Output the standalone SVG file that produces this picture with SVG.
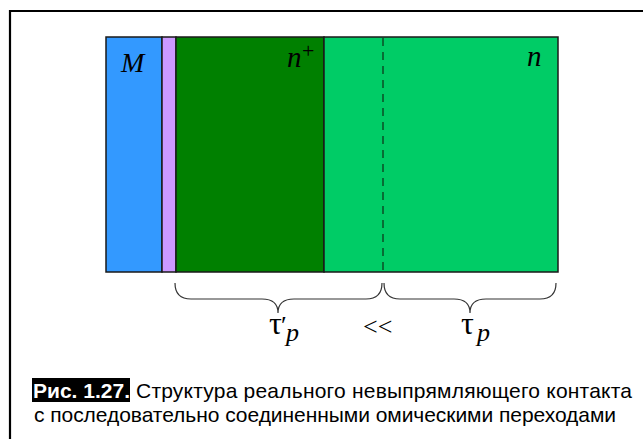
<svg xmlns="http://www.w3.org/2000/svg" width="643" height="439" viewBox="0 0 643 439">
  <style>
    .layer { stroke: #1a1a1a; stroke-width: 1.5; }
    .lbl { font-family: "Liberation Serif", "Times New Roman", serif; font-style: italic; fill: #000; }
    .tau { font-family: "Liberation Serif", "Times New Roman", serif; fill: #000; }
    .brace { fill: none; stroke: #333; stroke-width: 1.2; }
    .cap { font-family: "Liberation Sans", Arial, sans-serif; font-size: 21px; fill: #000; }
  </style>
  <rect width="643" height="439" fill="#fff"/>
  <!-- figure frame (open to the right and bottom) -->
  <path d="M10,450 L10,11 L650,11" fill="none" stroke="#000" stroke-width="2.2"/>

  <g id="metal">
    <rect class="layer" x="106" y="37" width="56" height="235" fill="#3399ff"/>
    <text class="lbl" x="121" y="72" font-size="28">M</text>
  </g>
  <g id="interlayer">
    <rect class="layer" x="162" y="37" width="14" height="235" fill="#cc99ff"/>
  </g>
  <g id="n-plus">
    <rect class="layer" x="176" y="37" width="148" height="235" fill="#008000"/>
    <text class="lbl" x="287" y="67" font-size="29">n</text>
    <text class="tau" x="302" y="58" font-size="22">+</text>
  </g>
  <g id="n-region">
    <rect class="layer" x="324" y="37" width="234" height="235" fill="#00cc66"/>
    <text class="lbl" x="527" y="66" font-size="29">n</text>
  </g>

  <g id="connectors">
    <line x1="383" y1="38" x2="383" y2="271" stroke="#0b4d26" stroke-width="1.5" stroke-dasharray="8,6"/>
    <path class="brace" d="M175,283 Q175,299 191,299 L262,299 Q278,299 278,313 Q278,299 294,299 L366,299 Q382,299 382,283"/>
    <path class="brace" d="M384,283 Q384,299 400,299 L454,299 Q470,299 470,313 Q470,299 486,299 L540,299 Q556,299 556,283"/>
  </g>

  <g id="labels">
    <text class="tau" x="269" y="334" font-size="32">τ</text>
    <text class="tau" x="281" y="334" font-size="26">′</text>
    <text class="lbl" x="286" y="341" font-size="26">p</text>
    <text class="tau" x="363" y="335" font-size="26">&lt;&lt;</text>
    <text class="tau" x="461" y="334" font-size="32">τ</text>
    <text class="lbl" x="477" y="341" font-size="26">p</text>
  </g>

  <g id="caption">
    <rect x="32" y="378" width="98" height="24" fill="#000"/>
    <text class="cap" x="33" y="398"><tspan font-weight="bold" fill="#fff">Рис. 1.27.</tspan></text>
    <text class="cap" x="136" y="398" textLength="496" lengthAdjust="spacing">Структура реального невыпрямляющего контакта</text>
    <text class="cap" x="34" y="422" textLength="582" lengthAdjust="spacing">с последовательно соединенными омическими переходами</text>
  </g>
</svg>
